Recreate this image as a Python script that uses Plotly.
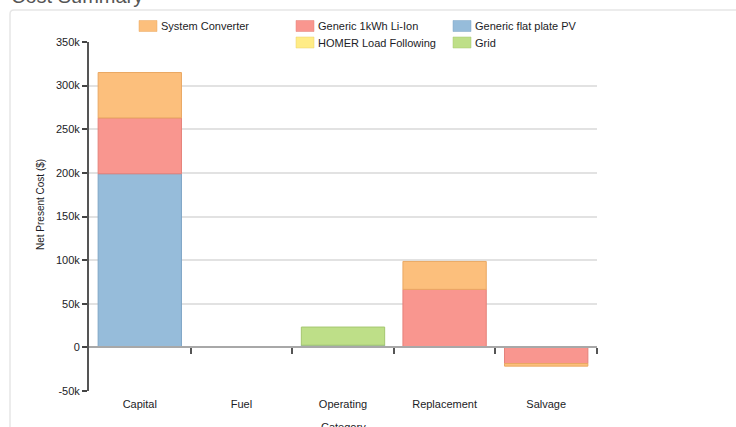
import plotly.graph_objects as go

# Net present cost by category for each system component ($); None = no cost
categories = ["Capital", "Fuel", "Operating", "Replacement", "Salvage"]
pv_flat_plate = [199000, None, 2500, None, None]
li_ion_1kwh = [64000, None, None, 66500, -18500]
system_converter = [52000, None, None, 32000, -3000]
homer_load_following = [None, None, None, None, None]
grid = [None, None, 20800, None, None]

y_tick_vals = [-50000, 0, 50000, 100000, 150000, 200000, 250000, 300000, 350000]
y_tick_text = ["-50k", "0", "50k", "100k", "150k", "200k", "250k", "300k", "350k"]

series = [
    ("Generic flat plate PV", pv_flat_plate, "#96bcda", "#7fa6c6"),
    ("Generic 1kWh Li-Ion", li_ion_1kwh, "#f9968f", "#e58179"),
    ("System Converter", system_converter, "#fcbf7c", "#eaa862"),
    ("HOMER Load Following", homer_load_following, "#ffec86", "#e8d36a"),
    ("Grid", grid, "#bedf88", "#a5c66f"),
]

W, H = 736, 427
L, R, T, B = 89, 139, 42, 36
PW, PH = W - L - R, H - T - B


def px_x(px):
    return (px - L) / PW


def px_y(py):
    return (H - B - py) / PH


fig = go.Figure()
for name, vals, fill, edge in series:
    fig.add_trace(go.Bar(
        x=categories, y=vals, name=name,
        marker=dict(color=fill, line=dict(color=edge, width=1)),
        showlegend=False,
    ))

# Zero baseline with category separator ticks
fig.add_trace(go.Scatter(x=[None], y=[None], xaxis="x2", showlegend=False))

text_color = "#1c1c26"
font_family = "Liberation Sans, Arial, sans-serif"

fig.update_layout(
    width=W, height=H,
    margin=dict(l=L, r=R, t=T, b=B),
    paper_bgcolor="white", plot_bgcolor="white",
    barmode="relative", bargap=0.18,
    font=dict(family=font_family, size=11, color=text_color),
    xaxis=dict(
        type="category", categoryarray=categories, range=[-0.5, 4.5],
        showline=False, showgrid=False, ticks="", zeroline=False,
        tickfont=dict(size=11, color=text_color), ticklabelstandoff=5,
    ),
    xaxis2=dict(
        overlaying="x", anchor="free", position=px_y(347), side="bottom",
        range=[-0.5, 4.5], tickvals=[0.5, 1.5, 2.5, 3.5, 4.5],
        showticklabels=False, showgrid=False, zeroline=False,
        showline=True, linecolor="#a8a8a8", linewidth=2,
        ticks="outside", ticklen=6, tickwidth=2, tickcolor="#555555",
    ),
    yaxis=dict(
        range=[-50000, 350000], tickvals=y_tick_vals, ticktext=y_tick_text,
        showline=True, linecolor="#555555", linewidth=2,
        ticks="outside", ticklen=5, tickwidth=1.5, tickcolor="#444444",
        showgrid=True, gridcolor="#e2e2e2", gridwidth=1.5,
        zeroline=False, tickfont=dict(size=11, color=text_color),
    ),
)

shapes = []
annotations = []

# Card outline behind the chart
shapes.append(dict(
    type="path", xref="paper", yref="paper", layer="below",
    path=(f"M {px_x(10)},{px_y(440)} L {px_x(10)},{px_y(14)} "
          f"Q {px_x(10)},{px_y(10)} {px_x(14)},{px_y(10)} L {px_x(740)},{px_y(10)}"),
    line=dict(color="#e6e6e6", width=1.5),
))

# Card heading
annotations.append(dict(
    text="Cost Summary", xref="paper", yref="paper",
    x=px_x(9), y=px_y(9), xanchor="left", yanchor="bottom",
    showarrow=False, font=dict(size=20, color="#555555"),
))

# Legend entries laid out on two rows
legend_items = [
    ("System Converter", "#fcbf7c", "#eaa862", 139, 26),
    ("Generic 1kWh Li-Ion", "#f9968f", "#e58179", 296, 26),
    ("Generic flat plate PV", "#96bcda", "#7fa6c6", 453, 26),
    ("HOMER Load Following", "#ffec86", "#e8d36a", 296, 42.5),
    ("Grid", "#bedf88", "#a5c66f", 453, 42.5),
]
for label, fill, edge, sx, sy in legend_items:
    shapes.append(dict(
        type="rect", xref="paper", yref="paper",
        x0=px_x(sx), x1=px_x(sx + 18), y0=px_y(sy + 5.5), y1=px_y(sy - 5.5),
        fillcolor=fill, line=dict(color=edge, width=0.5),
    ))
    annotations.append(dict(
        text=label, xref="paper", yref="paper",
        x=px_x(sx + 20), y=px_y(sy), xanchor="left", yanchor="middle",
        showarrow=False, font=dict(size=11, color=text_color),
    ))

# Axis titles
annotations.append(dict(
    text="Net Present Cost ($)", xref="paper", yref="paper",
    x=px_x(41), y=px_y(205), xanchor="center", yanchor="middle",
    textangle=-90, showarrow=False, font=dict(size=10, color=text_color),
))
annotations.append(dict(
    text="Category", xref="paper", yref="paper",
    x=px_x(343), y=px_y(427), xanchor="center", yanchor="middle",
    showarrow=False, font=dict(size=11, color=text_color),
))

fig.update_layout(shapes=shapes, annotations=annotations)
fig.write_html("out.html")
